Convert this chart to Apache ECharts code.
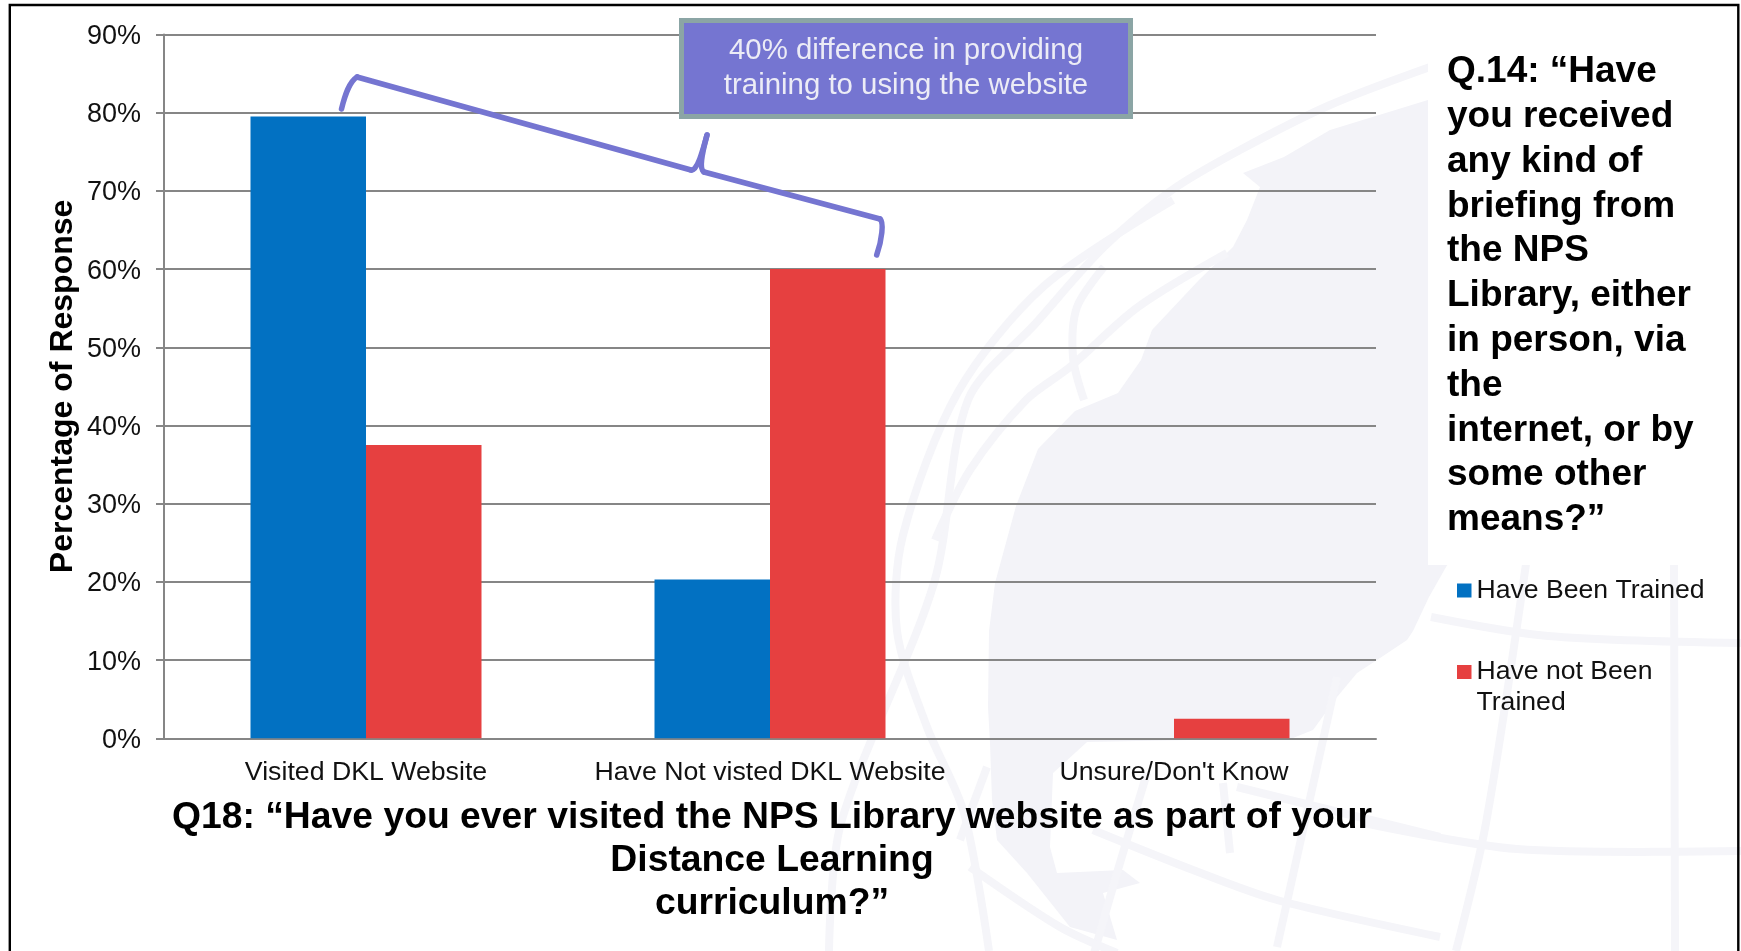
<!DOCTYPE html>
<html><head><meta charset="utf-8">
<style>html,body{margin:0;padding:0;background:#fff}#c{width:1741px;height:951px}</style>
<script src="https://cdn.jsdelivr.net/npm/echarts@6/dist/echarts.min.js"></script>
</head><body><div id="c"></div>
<script>
const categories = ['Visited DKL Website', 'Have Not visted DKL Website', "Unsure/Don't Know"];
const trained = [79.5, 20.3, null];
const notTrained = [37.5, 60, 2.5];
const seriesNames = ['Have Been Trained', 'Have not Been Trained'];
const xTitle = 'Q18: “Have you ever visited the NPS Library website as part of your\nDistance Learning\ncurriculum?”';
const yTitle = 'Percentage of Response';
const sideLines = ['Q.14: “Have','you received','any kind of','briefing from','the NPS','Library, either','in person, via','the','internet, or by','some other','means?”'];
const calloutText = '40% difference in providing\ntraining to using the website';

const FONT = '"Liberation Sans", Arial, sans-serif';
const GLOBE = '#f3f3f8';
const GLOBE_LINE = '#f5f5f9';
const land = [[1428,100],[1330,130],[1284,157],[1243,173],[1260,187],[1247,220],[1233,247],[1199,280],[1152,330],[1141,360],[1118,393],[1075,411],[1038,449],[1016,506],[995,583],[989,631],[988,707],[990,743],[992,800],[997,840],[1027,873],[1070,927],[1117,940],[1103,893],[1140,883],[1123,870],[1057,873],[1050,847],[1053,773],[1087,742],[1293,738],[1313,730],[1337,697],[1357,673],[1377,660],[1407,640],[1413,631],[1429,597],[1450,560],[1450,100]];
const arcs = [
  [[1173,200],[1044,286],[958,392],[903,535],[897,631],[927,727],[964,813],[989,951]],
  [[829,951],[841,823],[934,583],[968,400],[1036,323],[1104,247],[1172,190],[1240,150],[1330,105],[1430,67]],
  [[1227,253],[1138,307],[1070,367],[1026,400],[970,470],[935,540]],
  [[1104,267],[1077,307],[1073,357],[1084,400]],
  [[1431,617],[1548,636],[1741,643]],
  [[1364,823],[1517,849],[1741,851]],
  [[1093,830],[1193,870],[1277,900],[1440,937]],
  [[1237,787],[1440,837]],
  [[1526,564],[1486,823],[1456,951]],
  [[1674,564],[1675,951]],
  [[1337,677],[1277,947]],
  [[1147,773],[1117,873],[1093,957]],
  [[1223,783],[1230,853]],
  [[970,867],[1060,927],[1117,953]],
  [[987,767],[960,840]]
];
const globe = [{type:'polygon', z:-10, silent:true, shape:{points:land}, style:{fill:GLOBE}}].concat(
  arcs.map(a => ({type:'polyline', z:-9, silent:true, shape:{points:a, smooth:0.3}, style:{stroke:GLOBE_LINE, lineWidth:8, fill:null}})));

const side = sideLines.map((t, i) => ({type:'text', z:5, silent:true, x:1447, y:72 + i * 44.8,
  style:{text:t, font:'bold 37px ' + FONT, fill:'#000', verticalAlign:'middle'}}));

const BRACE = '#7575d1';
const S = {fill:null, stroke:BRACE, lineWidth:5.5, lineCap:'round'};
const curve = (x1,y1,cpx1,cpy1,cpx2,cpy2,x2,y2) => ({type:'bezierCurve', z:20, silent:true, shape:{x1,y1,cpx1,cpy1,cpx2,cpy2,x2,y2}, style:S});
const seg = (x1,y1,x2,y2) => ({type:'line', z:20, silent:true, shape:{x1,y1,x2,y2}, style:S});
const bracket = [
  curve(341.5,109,345,95,349,82,357,77),
  seg(357,77,691,170),
  curve(691,170,697,172,703,150,707,135),
  curve(707,135,703,150,698,168,704,172),
  seg(704,172,880,219),
  curve(880,219,884,222,882,240,876.7,255)
];

const chart = echarts.init(document.getElementById('c'), null, {renderer:'canvas'});
chart.setOption({
  animation:false,
  backgroundColor:'#fff',
  textStyle:{fontFamily:FONT},
  grid:{left:164, right:365, top:34.5, bottom:212.7, containLabel:false},
  xAxis:{type:'category', data:categories,
    axisLine:{lineStyle:{color:'#868686', width:2}},
    axisTick:{length:8, lineStyle:{color:'#868686', width:2}},
    axisLabel:{fontSize:26.7, color:'#111', margin:21, fontFamily:FONT, interval:0},
    name:xTitle, nameLocation:'middle', nameGap:58,
    nameTextStyle:{fontSize:37.3, fontWeight:'bold', color:'#000', lineHeight:43, fontFamily:FONT, padding:[0,0,0,4]}},
  yAxis:{type:'value', min:0, max:90, interval:10,
    axisLine:{show:true, lineStyle:{color:'#868686', width:2}},
    axisTick:{show:true, length:8, lineStyle:{color:'#868686', width:2}},
    splitLine:{lineStyle:{color:'#868686', width:2}},
    axisLabel:{formatter:'{value}%', fontSize:27, color:'#111', margin:23, fontFamily:FONT, verticalAlign:'top', lineHeight:4},
    name:yTitle, nameLocation:'middle', nameGap:85, nameMoveOverlap:false,
    nameTextStyle:{fontSize:32, fontWeight:'bold', color:'#000', fontFamily:FONT}},
  legend:[
    {orient:'vertical', left:1457, top:577, itemWidth:14.5, itemHeight:14, itemGap:0, icon:'rect', data:[seriesNames[0]],
     textStyle:{fontSize:26.6, color:'#111', fontFamily:FONT}, selectedMode:false, padding:0},
    {orient:'vertical', left:1457, top:658.5, itemWidth:14.5, itemHeight:14, itemGap:0, icon:'rect', data:[seriesNames[1]],
     formatter:n => n.replace(/ Trained$/, ''),
     textStyle:{fontSize:26.6, color:'#111', fontFamily:FONT}, selectedMode:false, padding:0}
  ],
  series:[
    {name:seriesNames[0], type:'bar', data:trained, barWidth:115.5, barGap:0, itemStyle:{color:'#0271c2'}},
    {name:seriesNames[1], type:'bar', data:notTrained, barWidth:115.5, barGap:0, itemStyle:{color:'#e64040'}}
  ],
  graphic:{elements:[
    ...globe,
    {type:'rect', z:-5, silent:true, shape:{x:1428, y:37, width:303, height:528}, style:{fill:'#fff'}},
    ...side,
    {type:'text', z:5, silent:true, x:1476.5, y:702.5, style:{text:'Trained', font:'26.6px ' + FONT, fill:'#111', verticalAlign:'middle'}},
    {type:'rect', z:100, silent:true, shape:{x:9.8, y:5, width:1728.5, height:1000}, style:{fill:null, stroke:'#000', lineWidth:2.4}},
    ...bracket,
    {type:'rect', z:21, silent:true, shape:{x:681.5, y:20.5, width:449, height:96}, style:{fill:BRACE, stroke:'#8ba5a5', lineWidth:5}},
    {type:'text', z:22, silent:true, x:906, y:68.5, style:{text:calloutText, font:'29.4px ' + FONT, fill:'#ececf6', align:'center', verticalAlign:'middle', lineHeight:35}}
  ]}
});
</script></body></html>
